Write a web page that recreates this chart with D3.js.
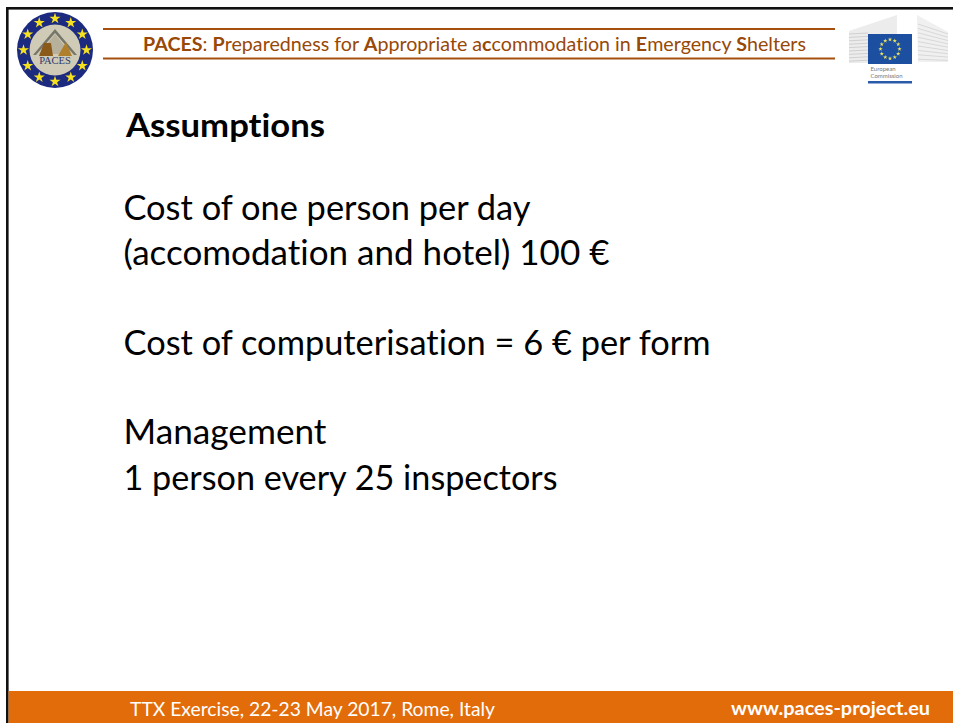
<!DOCTYPE html>
<html><head><meta charset="utf-8">
<script src="https://cdnjs.cloudflare.com/ajax/libs/d3/7.8.5/d3.min.js"></script>
<style>html,body{margin:0;padding:0;background:#fff;overflow:hidden}svg{display:block}text{font-family:Lato,"Open Sans",sans-serif;font-variant-ligatures:none}</style>
</head><body><svg id="c" width="953" height="723"></svg>
<script>
const headerParts=[["PACES",1],[": ",0],["P",1],["reparedness for ",0],["A",1],["ppropriate a",0],["c",1],["commodation in ",0],["E",1],["mergency ",0],["S",1],["helters",0]];
const slideTitle="Assumptions";
const bodyLines=[["Cost of one person per day",208],["(accomodation and hotel) 100 €",253],["Cost of computerisation = 6 € per form",343],["Management",432],["1 person every 25 inspectors",478]];
const bodyWidths=[407,486,587,203,434];
const footerLeft="TTX Exercise, 22-23 May 2017, Rome, Italy";
const footerRight="www.paces-project.eu";
const starCount=d3.range(12);
const euStarCount=d3.range(12);

const svg=d3.select("#c");
svg.append("rect").attr("width",953).attr("height",723).attr("fill","#fff");
svg.append("rect").attr("x",6).attr("y",7).attr("width",947).attr("height",2.6).attr("fill","#111");
svg.append("rect").attr("x",6).attr("y",7).attr("width",2.6).attr("height",716).attr("fill","#111");
svg.append("rect").attr("x",8.6).attr("y",691).attr("width",944.4).attr("height",32).attr("fill","#e36c0a");
[29,58.5].forEach(y=>svg.append("rect").attr("x",103).attr("y",y-1).attr("width",732).attr("height",2).attr("fill","#a5500f"));
const h=svg.append("text").attr("x",143).attr("y",50.5).attr("font-size",18.6).attr("fill","#984807")
 .attr("textLength",663).attr("lengthAdjust","spacingAndGlyphs");
h.selectAll("tspan").data(headerParts).join("tspan").attr("font-weight",d=>d[1]?700:400).style("white-space","pre").text(d=>d[0]);
svg.append("text").attr("x",126).attr("y",137).attr("font-size",32.5).attr("font-weight",700).attr("fill","#000")
 .attr("textLength",199).attr("lengthAdjust","spacingAndGlyphs").text(slideTitle);
svg.selectAll("text.b").data(bodyLines).join("text").attr("class","b").attr("x",123.5).attr("y",d=>d[1]+12)
 .attr("font-size",34.5).attr("fill","#000").attr("textLength",(d,i)=>bodyWidths[i]).attr("lengthAdjust","spacingAndGlyphs").text(d=>d[0]);
svg.append("text").attr("x",130).attr("y",716).attr("font-size",19).attr("fill","#fff").attr("textLength",365).attr("lengthAdjust","spacingAndGlyphs").text(footerLeft);
svg.append("text").attr("x",731).attr("y",715).attr("font-size",19).attr("font-weight",700).attr("fill","#fff").attr("textLength",199).attr("lengthAdjust","spacingAndGlyphs").text(footerRight);

const star=d3.symbol().type(d3.symbolStar);
const angle=d3.scaleLinear().domain([0,12]).range([0,2*Math.PI]);
const lg=svg.append("g").attr("transform","translate(55,50)");
lg.append("circle").attr("r",38).attr("fill","#1c2a80");
lg.append("circle").attr("r",25.5).attr("fill","#cfcbb6");
lg.selectAll("path.s").data(starCount).join("path").attr("class","s").attr("d",star.size(38)())
 .attr("transform",d=>`translate(${31.5*Math.sin(angle(d))},${-31.5*Math.cos(angle(d))})`).attr("fill","#f5e11f");
lg.append("path").attr("d",d3.line()([[-22,5],[0,-21],[22,5],[19,5],[0,-17],[-19,5]])).attr("fill","#77766a");
lg.append("path").attr("d",d3.line()([[-16,4],[0,-16],[16,4]])).attr("fill","#b7b09a");
lg.append("path").attr("d",d3.line()([[-16,6],[-11,-7],[-4,-7],[-2,6]])).attr("fill","#8a5a1a");
lg.append("path").attr("d",d3.line()([[3,6],[11,-8],[17,6]])).attr("fill","#b07f2c");
lg.append("text").attr("x",0).attr("y",14).attr("text-anchor","middle").attr("font-size",10.5).style("font-family","Liberation Serif").attr("fill","#2f3a70").text("PACES");

const ec=svg.append("g");
ec.append("path").attr("d",d3.line()([[849,31],[897,15],[897,34],[868,34],[868,63],[849,63]])).attr("fill","#ececec");
ec.append("path").attr("d",d3.line()([[917,15],[948,32],[948,62],[918,62]])).attr("fill","#f0f0f0");
d3.range(9).forEach(i=>{
 ec.append("line").attr("x1",849).attr("x2",868).attr("y1",34+i*3.4).attr("y2",33+i*3.4).attr("stroke","#d0d0d0").attr("stroke-width",1);
 ec.append("line").attr("x1",918).attr("x2",948).attr("y1",24+i*4.4).attr("y2",34+i*3.3).attr("stroke","#d8d8d8").attr("stroke-width",1);
});
ec.append("rect").attr("x",868).attr("y",34).attr("width",44).attr("height",30).attr("fill","#1c4fa0");
ec.selectAll("path.e").data(euStarCount).join("path").attr("class","e").attr("d",star.size(6)())
 .attr("transform",d=>`translate(${890+9.5*Math.sin(angle(d))},${49-9.5*Math.cos(angle(d))})`).attr("fill","#e8e060");
ec.append("text").attr("x",870.5).attr("y",71).attr("font-size",6).attr("fill","#777").text("European");
ec.append("text").attr("x",870.5).attr("y",78).attr("font-size",6).attr("fill","#777").text("Commission");
ec.append("rect").attr("x",868).attr("y",81).attr("width",44).attr("height",2.5).attr("fill","#2a5aa8");
</script></body></html>
